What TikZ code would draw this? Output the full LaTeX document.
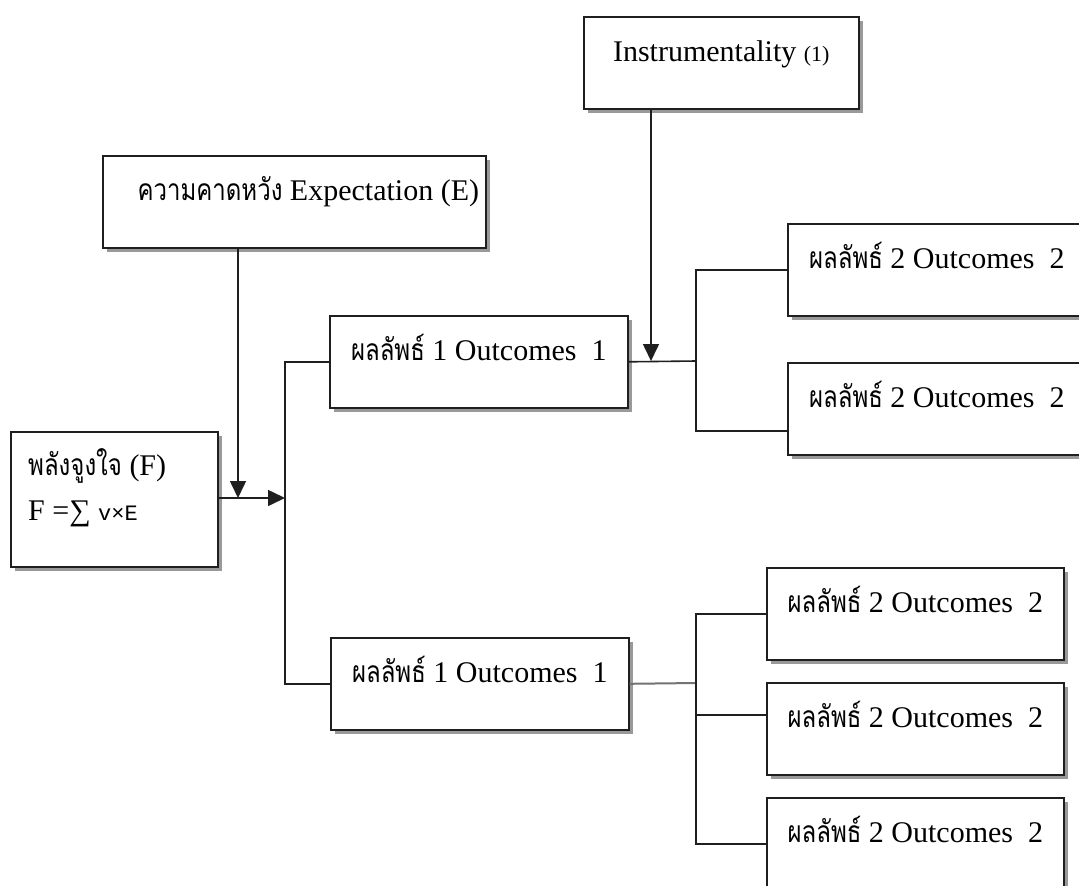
\documentclass[tikz,border=0pt]{standalone}
\usepackage{fontspec}
\setmainfont{Liberation Serif}
\newfontfamily\thai[Script=Thai,FakeStretch=0.8]{Loma}
\newfontfamily\monof{Liberation Mono}
\usetikzlibrary{arrows.meta,shadows}
\tikzset{
  box/.style={draw=black!88, line width=1.6pt, fill=white, anchor=north west,
    inner sep=0pt, text height=45pt, text depth=47pt,
    font=\fontsize{30}{33}\selectfont,
    drop shadow={shadow xshift=4pt, shadow yshift=-4pt, fill=black!40, opacity=1}},
  conn/.style={draw=black!88, line width=1.6pt},
  arr/.style={-{Triangle[length=17pt,width=16pt]}},
  ftext/.style={anchor=base west, inner sep=0pt, font=\fontsize{30}{33}\selectfont},
}
\begin{document}
\begin{tikzpicture}[x=1pt,y=-1pt]
\useasboundingbox (0,0) rectangle (1079,886);
\clip (0,0) rectangle (1079,886);
\fill[white] (0,0) rectangle (1079,886);

\node[box, minimum width=275pt] (instr) at (583,16) {Instrumentality {\fontsize{22}{24}\selectfont (1)}};
\node[box, minimum width=383pt] (expect) at (102,155) {\hspace*{28pt}{\thai ความคาดหวัง} Expectation (E)};
\node[box, minimum width=207pt, minimum height=135pt, text height=0pt, text depth=0pt] (fbox) at (10,431) {};
\node[ftext] (ft1) at (28,475) {{\thai พลังจูงใจ} (F)};
\node[ftext] (ft2) at (28,520) {F =∑ {\monof\fontsize{22}{24}\selectfont v×E}};

\node[box, minimum width=298pt] (o1a) at (329,315) {{\thai ผลลัพธ์} 1 Outcomes\ \ 1};
\node[box, minimum width=298pt] (o1b) at (330,637) {{\thai ผลลัพธ์} 1 Outcomes\ \ 1};

\node[box, minimum width=298pt] (o2a) at (787,223) {{\thai ผลลัพธ์} 2 Outcomes\ \ 2};
\node[box, minimum width=298pt] (o2b) at (787,362) {{\thai ผลลัพธ์} 2 Outcomes\ \ 2};

\node[box, minimum width=297pt] (o2c) at (766,567) {{\thai ผลลัพธ์} 2 Outcomes\ \ 2};
\node[box, minimum width=297pt] (o2d) at (766,682) {{\thai ผลลัพธ์} 2 Outcomes\ \ 2};
\node[box, minimum width=297pt] (o2e) at (766,797) {{\thai ผลลัพธ์} 2 Outcomes\ \ 2};

\coordinate (jE) at (238,498);
\coordinate (jF) at (285,498);
\coordinate (jI) at (651,361);
\coordinate (jA) at (696,361);
\coordinate (bA) at (787,431);
\coordinate (jB) at (696,683);
\coordinate (bD) at (766,715);

\draw[conn,arr] (expect.south -| jE) -- (jE);
\draw[conn,arr] (fbox.east |- jF) -- (jF);
\draw[conn] (o1a.west) -| (jF) |- (o1b.west);

\draw[conn,arr] (instr.south -| jI) -- (jI);
\draw[conn] (o1a.east) -- (jA);
\draw[conn] (o2a.west) -| (jA) |- (bA);

\draw[conn, draw=black!55, line width=2pt] (o1b.east) -- (jB);
\draw[conn] (o2c.west) -| (jB |- o2e.west) -- (o2e.west);
\draw[conn] (jB |- bD) -- (bD);
\end{tikzpicture}
\end{document}
